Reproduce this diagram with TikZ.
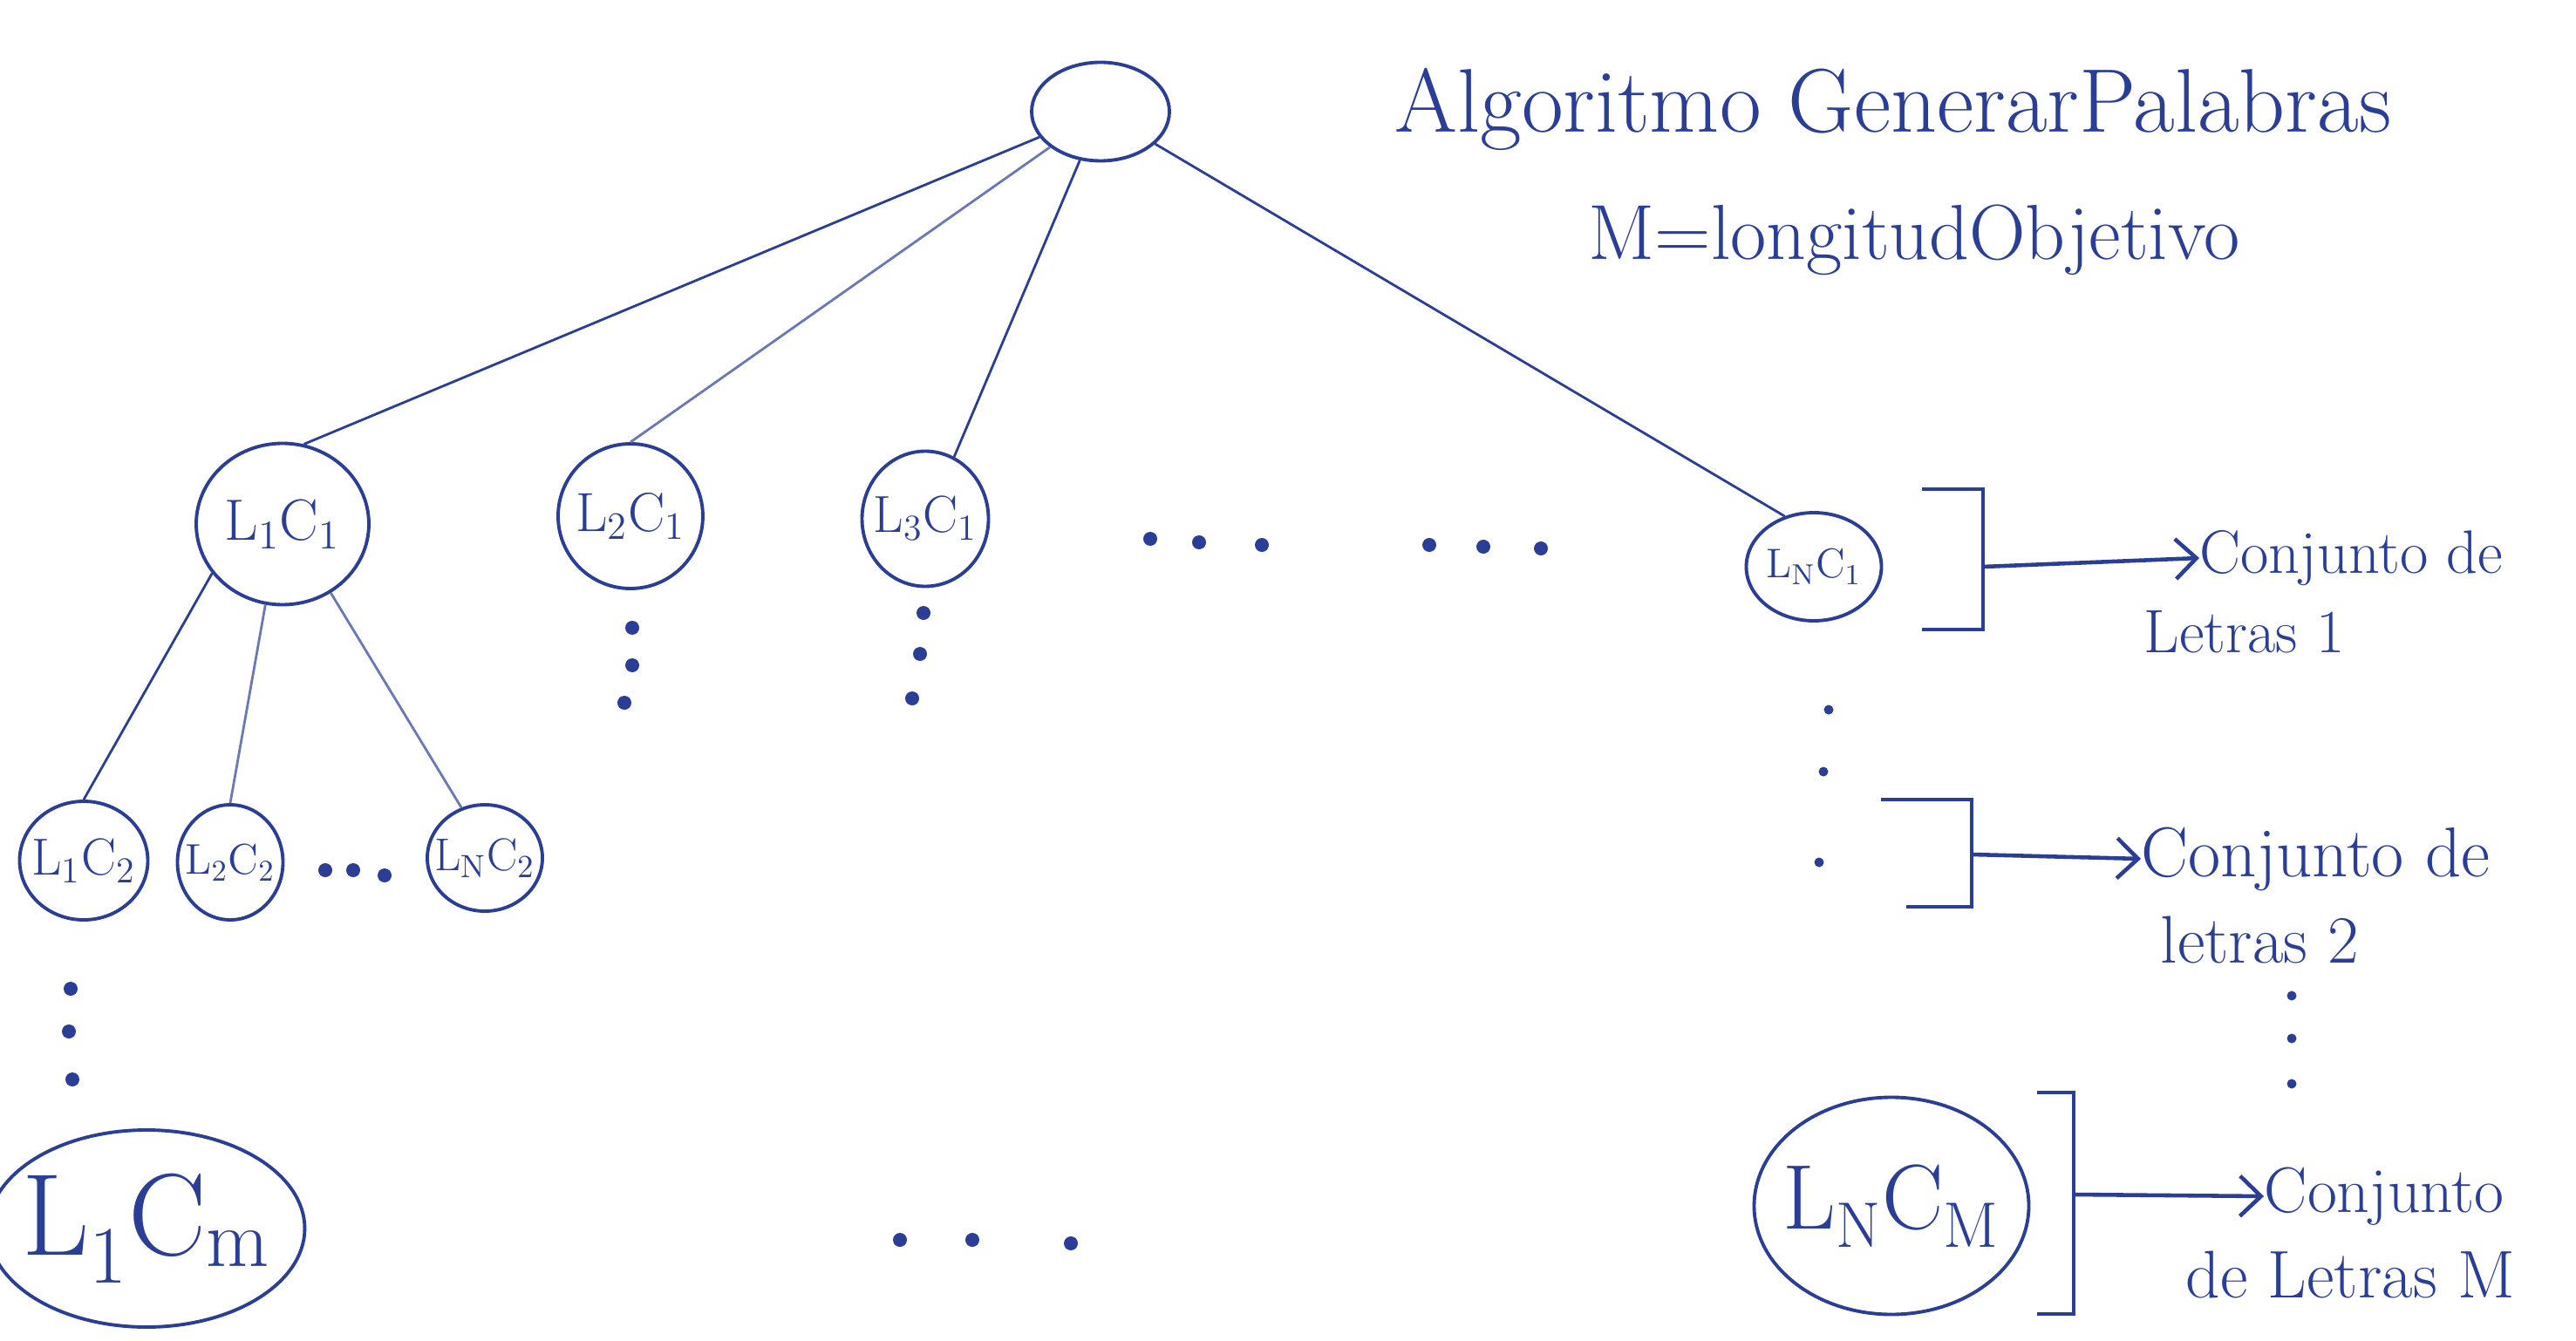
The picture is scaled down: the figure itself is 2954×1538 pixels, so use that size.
\documentclass[tikz,border=0pt]{standalone}
\usepackage{tikz}
\usetikzlibrary{shapes.geometric,arrows.meta,positioning}
\definecolor{ink}{RGB}{42,62,150}
\newcommand{\lc}[2]{L\textsubscript{#1}C\textsubscript{#2}}

\begin{document}
\begin{tikzpicture}[
    x=0.1mm, y=-0.1mm,
    state/.style={draw=ink, ellipse, line width=1.1pt, inner sep=-4pt, text=ink},
    edge/.style={draw=ink, line width=0.8pt},
    bracket/.style={draw=ink, line width=1.3pt},
    note/.style={text=ink, inner sep=0pt, anchor=west},
    >={Straight Barb[length=2.4mm,width=4.6mm]}
]
\fill[white] (0,0) rectangle (2954,1538);
\useasboundingbox (0,0) rectangle (2954,1538);

% Title
\node[text=ink, font=\fontsize{29.5}{34}\selectfont] (title) at (2171,125) {Algoritmo GenerarPalabras};
\node[text=ink, font=\fontsize{25.5}{30}\selectfont] (goal) at (2195,275) {M=longitudObjetivo};

% Tree
\node[state, minimum width=19.8mm, minimum height=18.5mm, font=\fontsize{19}{23}\selectfont] (l1c1) at (324,601) {\lc{1}{1}};
\node[state, minimum width=15.8mm, minimum height=11.3mm] (root) at (1262,128) {};
\node[state, minimum width=16.6mm, minimum height=16.6mm, font=\fontsize{18}{22}\selectfont] (l2c1) at (723,592) {\lc{2}{1}};
\node[state, minimum width=14.5mm, minimum height=15.5mm, font=\fontsize{17}{21}\selectfont] (l3c1) at (1061,595) {\lc{3}{1}};
\node[state, minimum width=15.5mm, minimum height=12.4mm, font=\fontsize{13.5}{16}\selectfont] (lnc1) at (2080,650) {\lc{N}{1}};
\node[state, minimum width=14.7mm, minimum height=13.6mm, font=\fontsize{17}{20}\selectfont] (l1c2) at (96,987) {\lc{1}{2}};
\node[state, minimum width=12.1mm, minimum height=13.2mm, font=\fontsize{14}{17}\selectfont] (l2c2) at (264,989) {\lc{2}{2}};
\node[state, minimum width=13.2mm, minimum height=12.2mm, font=\fontsize{15}{18}\selectfont] (lnc2) at (556,984) {\lc{N}{2}};
\node[state, minimum width=35.4mm, minimum height=22.6mm, font=\fontsize{38}{44}\selectfont] (l1cm) at (168,1409) {\lc{1}{m}};
\node[state, minimum width=31.5mm, minimum height=24.9mm, font=\fontsize{30}{36}\selectfont] (lncm) at (2169,1383) {\lc{N}{M}};

\draw[edge] (root) -- (l1c1.75);
\draw[edge, draw=ink!70] (root) -- (l2c1.north);
\draw[edge] (root) -- (l3c1.65);
\draw[edge] (root) -- (lnc1.120);
\draw[edge] (l1c1.215) -- (l1c2.north);
\draw[edge, draw=ink!70] (l1c1.258) -- (l2c2.north);
\draw[edge, draw=ink!70] (l1c1.305) -- (lnc2.115);

% Dots
\foreach \px/\py in {373/998, 405/998, 441/1004, 725/720, 725/763, 716/806,
    1059/703, 1055/750, 1046/801, 1319/618, 1375/622, 1447/625,
    1639/625, 1701/627, 1767/629, 81/1134, 79/1183, 83/1238,
    1032/1422, 1115/1422, 1228/1426}
  \fill[ink] (\px,\py) circle[radius=0.8mm];
\foreach \px/\py in {2097/814, 2091/885, 2086/989, 2628/1142, 2628/1191, 2628/1243}
  \fill[ink] (\px,\py) circle[radius=0.55mm];

% Sets of letters
\node[note, font=\fontsize{20}{24}\selectfont] (conj1) at (2522,640) {Conjunto de};
\node[note, font=\fontsize{20}{24}\selectfont] (letras1) at (2458,725) {Letras 1};
\node[note, font=\fontsize{23}{27}\selectfont] (conj2) at (2455,985) {Conjunto de};
\node[note, font=\fontsize{22}{26}\selectfont] (letras2) at (2477,1078) {letras 2};
\node[note, font=\fontsize{21}{25}\selectfont] (conj3) at (2596,1372) {Conjunto};
\node[note, font=\fontsize{22}{26}\selectfont] (letras3) at (2506,1462) {de Letras M};

\coordinate (b1) at (2274,650);
\coordinate (b2) at (2261,980);
\coordinate (b3) at (2378,1370);
\draw[bracket] (2204,561) -- (2274,561) -- (2274,722) -- (2204,722);
\draw[bracket] (2157,917) -- (2261,917) -- (2261,1040) -- (2186,1040);
\draw[bracket] (2336,1253) -- (2378,1253) -- (2378,1507) -- (2336,1507);
\draw[bracket, ->] (b1) -- (conj1.west);
\draw[bracket, ->] (b2) -- (conj2.west);
\draw[bracket, ->] (b3) -- (conj3.west);
\end{tikzpicture}
\end{document}
